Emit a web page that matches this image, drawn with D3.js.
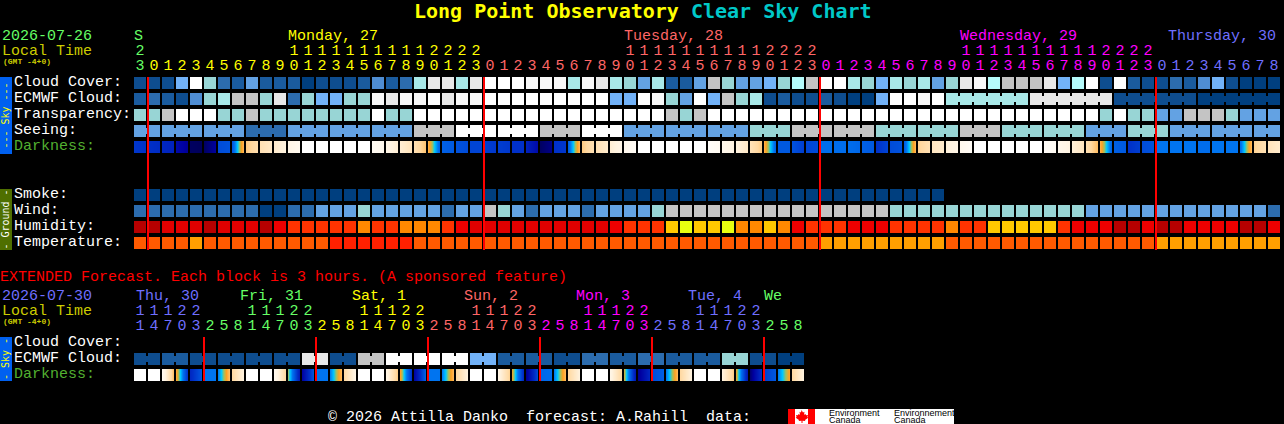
<!DOCTYPE html>
<html>
<head>
<meta charset="utf-8">
<script src="https://cdn.jsdelivr.net/npm/d3@7"></script>
<style>
html,body{margin:0;padding:0;background:#000;overflow:hidden}
svg{display:block}
text{font-family:"Liberation Mono",monospace;font-size:15px;white-space:pre}
</style>
</head>
<body>
<svg id="c" width="1284" height="424"></svg>
<script>
// ---- tick labels ----
const hours = [23,0,1,2,3,4,5,6,7,8,9,10,11,12,13,14,15,16,17,18,19,20,21,22,23,
  0,1,2,3,4,5,6,7,8,9,10,11,12,13,14,15,16,17,18,19,20,21,22,23,
  0,1,2,3,4,5,6,7,8,9,10,11,12,13,14,15,16,17,18,19,20,21,22,23,
  0,1,2,3,4,5,6,7,8];
const dayNames = ["S","Monday, 27","Tuesday, 28","Wednesday, 29","Thursday, 30"];
const dayCols = [0,11,35,59,74];
const extHours = [11,14,17,20,23, 2,5,8,11,14,17,20,23, 2,5,8,11,14,17,20,23, 2,5,8,11,14,17,20,23,
  2,5,8,11,14,17,20,23, 2,5,8,11,14,17,20,23, 2,5,8];
const extDayNames = ["Thu, 30","Fri, 31","Sat, 1","Sun, 2","Mon, 3","Tue, 4","We"];
const extDayCols = [0,8,16,24,32,40,45];

// ---- series (index into skyLevels / heatLevels) ----
const cloudCover = [1,1,1,6,13,7,3,2,5,2,2,2,0,1,1,1,2,4,2,3,8,11,11,8,11,13,13,13,12,12,12,8,12,11,8,7,5,8,2,2,5,10,7,5,5,6,7,9,10,13,13,8,
  7,6,8,7,8,5,7,11,12,9,10,10,10,11,6,9,13,1,13,2,1,1,3,2,4,6,1,0,0,0];
const ecmwf = [2,3,2,1,4,7,8,10,10,7,11,3,7,6,6,7,7,12,11,12,12,13,11,12,12,13,13,13,13,13,13,13,13,13,6,6,13,12,7,5,13,6,10,7,8,1,2,1,1,2,1,0,
  0,6,13,13,12,13,8,8,8,8,8,8,11,11,11,11,11,11,1,1,1,1,1,1,0,0,0,0,0,0];
const transparency = [7,7,10,13,13,13,7,7,10,7,7,7,7,7,7,7,7,13,7,7,13,13,13,13,13,13,13,13,13,13,13,13,13,13,13,13,13,13,10,7,10,13,13,13,13,13,13,13,13,13,13,13,
  13,13,13,13,13,13,13,13,13,13,13,13,13,13,13,13,13,7,13,7,7,5,5,10,10,10,7,5,5,5];
const seeingBlocks = [5,5,5,3,5,5,5,10,13,13,10,13,5,5,5,7,10,10,7,7,10,7,7,5,7,5,5,5];
const smoke = [0,0,0,0,0,0,0,0,0,0,0,0,0,0,0,0,0,0,0,0,0,0,0,0,0,0,0,0,0,0,0,0,0,0,0,0,0,0,0,0,0,0,0,0,0,0,0,0,0,0,0,0,0,0,0,0,0,0];
const wind = [3,3,3,3,3,3,3,3,3,0,0,3,3,5,5,5,7,5,5,5,5,5,3,5,5,10,7,5,3,5,5,5,3,5,5,5,5,7,10,10,10,10,10,10,10,10,10,10,10,10,10,10,
  10,10,7,7,7,7,7,7,7,7,7,7,7,7,7,7,5,5,5,5,5,5,5,5,5,5,5,5,5,3];
const humidity = [0,0,1,1,1,0,1,1,1,0,2,3,3,3,3,3,6,3,3,6,6,6,3,2,1,1,1,1,1,1,1,1,1,1,2,3,3,3,8,9,8,8,9,6,6,8,6,2,3,3,3,2,
  2,2,3,3,3,3,6,3,3,8,8,8,8,8,3,2,2,2,0,0,2,0,0,2,2,2,2,0,0,2];
const temperature = [5,5,5,5,7,5,5,5,5,5,5,5,5,5,4,4,4,4,4,4,5,5,5,5,5,5,5,5,5,5,5,5,5,5,5,5,5,5,5,5,5,5,5,5,5,5,5,5,5,7,7,7,
  7,7,7,7,7,7,5,5,5,5,5,5,5,5,5,5,5,5,5,5,5,7,7,7,7,7,7,7,7,7];
// darkness: value at the left and right edge of each hour block
const darkStart = [2.1,2.0,1.8,1.2,0.5,0.5,2.4,2.5,4.8,5.3,5.7,6.2,7,7,7,7,7,6.6,6.2,5.8,5.3,4.5,2.7,2.5,2.3,2.2,2.2,2.0,1.7,0.5,2.0,2.6,4.8,5.3,5.8,6.4,7,7,7,7,7,6.8,6.4,6.0,5.4,4.5,2.6,2.5,2.3,2.9,2.9,2.9,
  2.7,2.0,2.4,2.6,4.9,5.5,5.9,6.4,7,7,7,7,7,6.8,6.4,5.9,5.3,4.5,2.7,2.0,2.4,3,3,3,2.9,3,3,2.8,4.9,5.4];
const darkEnd = [2.0,1.9,1.7,0.9,0.4,1.0,2.5,4.6,5.2,5.6,6.0,6.5,7,7,7,7,7,6.4,5.8,5.4,4.7,2.7,2.6,2.4,2.3,2.1,2.1,2.0,1.2,0.8,2.1,4.6,5.3,5.7,6.2,6.7,7,7,7,7,7,6.6,6.1,5.6,4.8,2.7,2.6,2.2,2.4,2.9,2.9,2.8,
  2.6,2.3,2.5,4.6,5.3,5.7,6.2,6.7,7,7,7,7,7,6.6,6.1,5.5,4.6,2.7,2.6,2.2,2.5,3,3,3,2.9,3,3,4.6,5.3,5.7];
const extEcmwfBlocks = [1,2,1,1,1,1,11,1,10,13,13,13,6,2,2,1,3,2,3,2,2,7,1,0];
const extDarkStart = [7,7,6.6,4.4,1.8,3,3.0,5,7,7,6.5,3.9,1.0,3,3.0,5,7,7,6.2,4.3,1.0,3,3.0,5,7,7,6.2,4.2,0.8,2.8,3.0,5,7,7,6.2,4.1,0.8,2.4,3.0,5,7,7,6.0,4.2,0.6,2.2,3.0,5];
const extDarkEnd   = [7,7,4.6,2.0,2.6,3,4.7,6,7,7,5.0,1.5,2.6,3,4.6,6.2,7,7,4.8,2.0,2.8,3,4.6,6,7,7,4.9,1.8,2.4,2.9,4.6,6,7,7,5.0,1.4,1.8,2.7,4.6,6,7,7,4.8,1.4,2.0,2.6,4.3,6];

// ---- colour scales ----
const skyLevels = ["#003f7f","#0e4d8f","#1a5b9e","#2c6cae","#4f8dd3","#63a2e3","#72b2f8","#98d5d5","#a8e8e8","#b5fbfb","#c4c4c4","#e8e8e8","#f8f8f8","#ffffff"];
const heatLevels = ["#b70000","#e00000","#ee0000","#ff3300","#ff2000","#ff5a00","#ff8800","#ff9f00","#ffc800","#e8ff10"];
const darkScale = d3.scaleLinear()
  .domain([0,0.5,1,2,3,3.5,3.85,4.2,5,6,7])
  .range(["#000040","#000060","#0000a0","#0030c8","#0074f0","#00c8ff","#a0c060","#ffa020","#ffd8a0","#fff3e0","#ffffff"])
  .clamp(true);
const skyColor = d3.scaleOrdinal(d3.range(skyLevels.length), skyLevels);
const heatColor = d3.scaleOrdinal(d3.range(heatLevels.length), heatLevels);

// ---- layout ----
const STEP = 14, CELL = 12, LEFT = 134;
const pad = (STEP-CELL)/STEP;
const band = n => d3.scaleBand().domain(d3.range(n)).range([LEFT, LEFT+n*STEP-(STEP-CELL)]).paddingInner(pad).paddingOuter(0);
const x = band(hours.length), xe = band(extHours.length);
const rowY = d3.scalePoint().domain(["cloud","ecmwf","trans","seeing","dark"]).range([77,141]);
const gndY = d3.scalePoint().domain(["smoke","wind","hum","temp"]).range([189,237]);
const extY = d3.scalePoint().domain(["cloud","ecmwf","dark"]).range([337,369]);

const svg = d3.select("#c");
const GREEN="#66ff66",YELLOW="#ffff00",SALMON="#ff6666",MAGENTA="#ff00ff",BLUE="#6f6fff",OLIVE="#cccc00";
const dayColors=[GREEN,YELLOW,SALMON,MAGENTA,BLUE];
const extColors=[BLUE,GREEN,YELLOW,SALMON,MAGENTA,BLUE,GREEN];

const label=(s,px,py,fill,extra)=>{
  const t=svg.append("text").attr("x",px).attr("y",py).attr("fill",fill).text(s);
  if(extra) extra(t);
  return t;
};
// title
const title=svg.append("text").attr("x",414).attr("y",18)
  .style("font-family","'DejaVu Sans Mono',monospace").style("font-weight","bold").style("font-size","20px");
title.append("tspan").attr("fill","#ffff00").text("Long Point Observatory ");
title.append("tspan").attr("fill","#00c8c8").text("Clear Sky Chart");

function headerBlock(date,dateColor,y0){
  label(date,2,y0,dateColor);
  label("Local Time",2,y0+15,OLIVE);
  label("(GMT -4+0)",3,y0+24,OLIVE,t=>t.style("font-size","8px").style("font-weight","bold"));
}
headerBlock("2026-07-26",GREEN,40);
headerBlock("2026-07-30",BLUE,300);

label("EXTENDED Forecast. Each block is 3 hours. (A sponsored feature)",0,281,"#ff0000");

// day index for each column
function dayIndex(hs){let d=0;return hs.map((h,i)=>{if(i>0&&h<hs[i-1])d++;return d;});}
const dayOf=dayIndex(hours), extDayOf=dayIndex(extHours);

function hourAxes(scale,hs,days,colors,y){
  const styleAxis=g=>{
    g.select(".domain").remove();
    g.attr("font-family",null).attr("font-size",null);
    g.selectAll(".tick text").attr("fill",d=>colors[days[d]]).attr("dy",0);
  };
  svg.append("g").attr("transform",`translate(0,${y})`)
    .call(d3.axisTop(scale).tickSize(0).tickPadding(0).tickFormat(d=>hs[d]%10)).call(styleAxis);
  svg.append("g").attr("transform",`translate(0,${y-15})`)
    .call(d3.axisTop(scale).tickSize(0).tickPadding(0)
      .tickValues(d3.range(hs.length).filter(i=>hs[i]>=10))
      .tickFormat(d=>Math.floor(hs[d]/10))).call(styleAxis);
}
hourAxes(x,hours,dayOf,dayColors,70);
hourAxes(xe,extHours,extDayOf,extColors,330);

// day names
dayNames.forEach((n,i)=>{
  const start=i===dayNames.length-1 ? x(dayCols[i])-2 : x(dayCols[i]);
  label(n,start,40,dayColors[i]);
});
extDayNames.forEach((n,i)=>{
  const c=extDayCols[i];
  const start=i===0 ? xe(c)+2 : (i===extDayNames.length-1 ? xe(c) : xe(c)-6);
  label(n,start,300,extColors[i]);
});

// row labels
const W="#ffffff", DG="#52b030";
[["Cloud Cover:",86,W],["ECMWF Cloud:",102,W],["Transparency:",118,W],["Seeing:",134,W],["Darkness:",150,DG],
 ["Smoke:",198,W],["Wind:",214,W],["Humidity:",230,W],["Temperature:",246,W],
 ["Cloud Cover:",346,W],["ECMWF Cloud:",362,W],["Darkness:",378,DG]]
 .forEach(d=>label(d[0],14,d[1],d[2]));

// side tabs
function tab(y0,y1,fill,txt,color){
  svg.append("rect").attr("x",0).attr("y",y0).attr("width",12).attr("height",y1-y0).attr("fill",fill);
  svg.append("text").attr("transform",`translate(9,${(y0+y1)/2}) rotate(-90)`)
    .attr("text-anchor","middle").attr("fill",color)
    .style("font-family","'DejaVu Sans Mono',monospace").style("font-size","10px").text(txt);
}
tab(77,154,"#0060f0","--- Sky ---","#ffff00");
tab(189,250,"#4f6f00","- Ground -","#ffffff");
tab(337,381,"#0060f0","- Sky -","#ffff00");

// blocks
function row(scale,vals,y,color,blockOf){
  const g=svg.append("g").attr("shape-rendering","crispEdges");
  g.selectAll("rect.c").data(vals).join("rect").attr("class","c")
    .attr("x",(d,i)=>scale(i)).attr("y",y).attr("width",scale.bandwidth()).attr("height",scale.bandwidth())
    .attr("fill",d=>color(d));
  if(blockOf){
    const links=d3.range(vals.length-1).filter(i=>blockOf(i)===blockOf(i+1));
    g.selectAll("rect.l").data(links).join("rect").attr("class","l")
      .attr("x",i=>scale(i)+scale.bandwidth()).attr("y",y+3)
      .attr("width",scale.step()-scale.bandwidth()).attr("height",scale.bandwidth()/2)
      .attr("fill",i=>color(vals[i]));
  }
}
function darkRow(scale,starts,ends,y){
  const g=svg.append("g").attr("shape-rendering","crispEdges");
  const w=Math.round(scale.bandwidth());
  const sub=d3.range(w);
  const cells=g.selectAll("g").data(starts.map((s,i)=>({i,s,e:ends[i]}))).join("g");
  cells.selectAll("rect").data(c=>sub.map(k=>({c,k}))).join("rect")
    .attr("x",d=>Math.round(scale(d.c.i))+d.k).attr("y",y).attr("width",1).attr("height",w)
    .attr("fill",d=>darkScale(d.c.s+(d.c.e-d.c.s)*(d.k+0.5)/w));
}
const seeingBlockOf=i=>Math.floor((i+1)/3);
const ecmwfBlockOf=i=>i<58?i:58+Math.floor((i-58)/6);
const extBlockOf=i=>Math.floor(i/2);
const seeing=d3.range(hours.length).map(i=>seeingBlocks[seeingBlockOf(i)]);
const extEcmwf=d3.range(extHours.length).map(i=>extEcmwfBlocks[extBlockOf(i)]);

row(x,cloudCover,rowY("cloud"),skyColor);
row(x,ecmwf,rowY("ecmwf"),skyColor,ecmwfBlockOf);
row(x,transparency,rowY("trans"),skyColor);
row(x,seeing,rowY("seeing"),skyColor,seeingBlockOf);
darkRow(x,darkStart,darkEnd,rowY("dark"));
row(x,smoke,gndY("smoke"),skyColor);
row(x,wind,gndY("wind"),skyColor);
row(x,humidity,gndY("hum"),heatColor);
row(x,temperature,gndY("temp"),heatColor);
row(xe,extEcmwf,extY("ecmwf"),skyColor,extBlockOf);
darkRow(xe,extDarkStart,extDarkEnd,extY("dark"));

// midnight markers
const redG=svg.append("g").attr("fill","#ff0000").attr("shape-rendering","crispEdges");
d3.range(hours.length).filter(i=>hours[i]===0).forEach(i=>{
  redG.append("rect").attr("x",x(i)-1).attr("y",77).attr("width",2).attr("height",173);
});
d3.range(extHours.length).filter(i=>extHours[i]===2).forEach(i=>{
  redG.append("rect").attr("x",xe(i)-1).attr("y",337).attr("width",2).attr("height",44);
});

// footer
label("\u00a9 2026 Attilla Danko  forecast: A.Rahill  data:",328,421,W);
const defs=svg.append("defs");
defs.append("clipPath").attr("id","logo").append("rect").attr("x",788).attr("y",409).attr("width",166).attr("height",15);
const logo=svg.append("g").attr("clip-path","url(#logo)");
logo.append("rect").attr("x",788).attr("y",409).attr("width",166).attr("height",15).attr("fill","#fff");
logo.append("rect").attr("x",788).attr("y",409).attr("width",7).attr("height",15).attr("fill","#ff0000");
logo.append("rect").attr("x",808).attr("y",409).attr("width",7).attr("height",15).attr("fill","#ff0000");
logo.append("path").attr("fill","#ff0000")
  .attr("d","M801.5 410l1.5 2.5 1.5-.8-.5 3 1.5-.8.5 1.3 2-.3-.6 2 .9.8-3.3 2.2.3 1.2-2.8-.4V423h-1v-2.3l-2.8.4.3-1.2-3.3-2.2.9-.8-.6-2 2 .3.5-1.3 1.5.8-.5-3 1.5.8z");
[["Environment",829],["Canada",829],["Environnement",894],["Canada",894]].forEach((d,i)=>{
  logo.append("text").attr("x",d[1]).attr("y",i%2?423:416).attr("fill","#000")
    .style("font-family","'Liberation Sans',sans-serif").style("font-size","9px").text(d[0]);
});
</script>
</body>
</html>
